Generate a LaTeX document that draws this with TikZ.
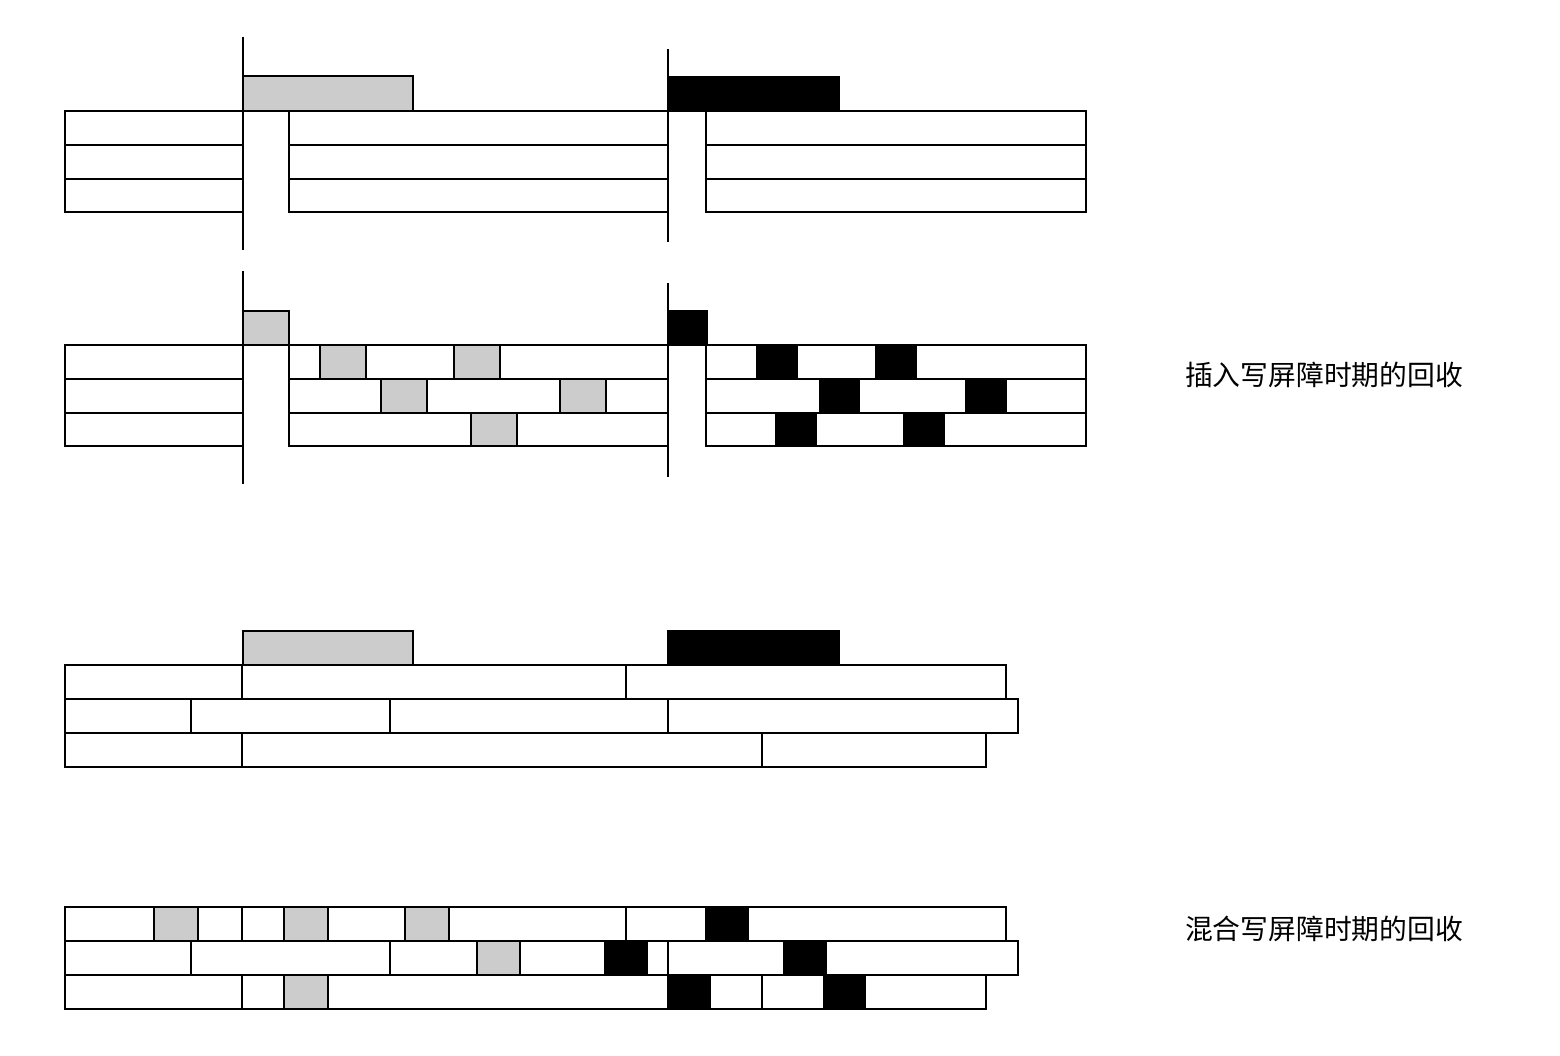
\documentclass[tikz,border=0pt]{standalone}
\usepackage{fontspec}
\newfontfamily\cjk{Noto Sans CJK SC}
\begin{document}
\begin{tikzpicture}[x=1pt,y=-1pt,
  cell/.style={draw=black,line width=2pt,fill=white},
  gcell/.style={draw=black,line width=2pt,fill={rgb,255:red,204;green,204;blue,204}},
  bcell/.style={draw=black,line width=2pt,fill=black},
  vline/.style={draw=black,line width=2pt},
  lbl/.style={font=\cjk\fontsize{27.8}{30}\selectfont,inner sep=0pt,anchor=center}]
\useasboundingbox (0,0) rectangle (1560,1056);
% ---------- Section 1 ----------
\foreach \a/\b in {111/145,145/179,179/212}{
  \draw[cell] (65,\a) rectangle (243,\b);
  \draw[cell] (289,\a) rectangle (668,\b);
  \draw[cell] (706,\a) rectangle (1086,\b);
}
\draw[gcell] (243,76) rectangle (413,111);
\draw[bcell] (668,77) rectangle (839,111);
\draw[vline] (243,37) -- (243,250);
\draw[vline] (668,49) -- (668,242);
% ---------- Section 2 ----------
\foreach \a/\b in {345/379,379/413,413/446}{
  \draw[cell] (65,\a) rectangle (243,\b);
}
% row 1
\foreach \l/\r/\s in {289/320/cell,320/366/gcell,366/454/cell,454/500/gcell,500/668/cell,
                      706/757/cell,757/797/bcell,797/876/cell,876/916/bcell,916/1086/cell}{
  \draw[\s] (\l,345) rectangle (\r,379);
}
% row 2
\foreach \l/\r/\s in {289/381/cell,381/427/gcell,427/560/cell,560/606/gcell,606/668/cell,
                      706/820/cell,820/859/bcell,859/966/cell,966/1006/bcell,1006/1086/cell}{
  \draw[\s] (\l,379) rectangle (\r,413);
}
% row 3
\foreach \l/\r/\s in {289/471/cell,471/517/gcell,517/668/cell,
                      706/776/cell,776/816/bcell,816/904/cell,904/944/bcell,944/1086/cell}{
  \draw[\s] (\l,413) rectangle (\r,446);
}
\draw[gcell] (243,311) rectangle (289,345);
\draw[bcell] (668,311) rectangle (707,345);
\draw[vline] (243,271) -- (243,484);
\draw[vline] (668,283) -- (668,477);
\node[lbl] (lab1) at (1324,375) {插入写屏障时期的回收};
% ---------- Section 3 ----------
\draw[gcell] (243,631) rectangle (413,665);
\draw[bcell] (668,631) rectangle (839,665);
\foreach \l/\r in {65/242,242/626,626/1006}{
  \draw[cell] (\l,665) rectangle (\r,699);
}
\foreach \l/\r in {65/191,191/390,390/668,668/1018}{
  \draw[cell] (\l,699) rectangle (\r,733);
}
\foreach \l/\r in {65/242,242/762,762/986}{
  \draw[cell] (\l,733) rectangle (\r,767);
}
% ---------- Section 4 ----------
\foreach \l/\r/\s in {65/154/cell,154/198/gcell,198/242/cell,242/284/cell,284/328/gcell,
                      328/405/cell,405/449/gcell,449/626/cell,626/706/cell,706/748/bcell,748/1006/cell}{
  \draw[\s] (\l,907) rectangle (\r,941);
}
\foreach \l/\r/\s in {65/191/cell,191/390/cell,390/477/cell,477/520/gcell,520/605/cell,
                      605/647/bcell,647/668/cell,668/784/cell,784/826/bcell,826/1018/cell}{
  \draw[\s] (\l,941) rectangle (\r,975);
}
\foreach \l/\r/\s in {65/242/cell,242/284/cell,284/328/gcell,328/668/cell,668/710/bcell,
                      710/762/cell,762/824/cell,824/865/bcell,865/986/cell}{
  \draw[\s] (\l,975) rectangle (\r,1009);
}
\node[lbl] (lab2) at (1324,929) {混合写屏障时期的回收};
\end{tikzpicture}
\end{document}
